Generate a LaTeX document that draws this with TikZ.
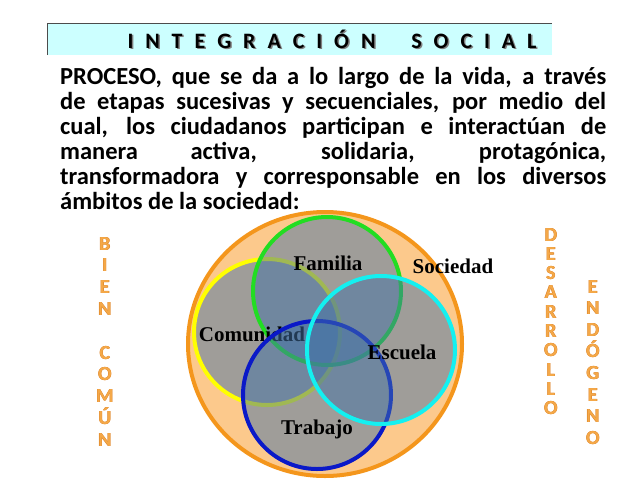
\documentclass[tikz,border=0pt]{standalone}
\usepackage{fontspec}
\setmainfont{Carlito}
\newfontfamily\lblfont{Liberation Serif}
\usetikzlibrary{shapes}
\definecolor{titlebg}{RGB}{204,255,255}
\definecolor{ringfill}{RGB}{252,201,140}
\definecolor{ringline}{RGB}{244,150,28}
\definecolor{venn}{RGB}{67,115,166}
\definecolor{comcol}{RGB}{255,255,0}
\definecolor{famcol}{RGB}{34,221,34}
\definecolor{esccol}{RGB}{20,240,240}
\definecolor{trabcol}{RGB}{10,25,200}
\definecolor{sidecol}{RGB}{244,168,72}
\definecolor{sideedge}{RGB}{214,120,30}
\tikzstyle{vc}=[fill=venn,fill opacity=.5,line width=4pt]
\tikzstyle{lbl}=[anchor=base,inner sep=0pt,font=\lblfont\bfseries\fontsize{21}{21}\selectfont]
\tikzstyle{side}=[anchor=base,inner sep=0pt,text=sidecol,font=\bfseries\fontsize{20}{20}\selectfont]
\tikzstyle{txt}=[anchor=base west,inner sep=0pt,font=\bfseries\fontsize{24.5}{25}\selectfont]
\tikzstyle{ttl}=[anchor=base,inner sep=0pt,font=\bfseries\fontsize{22}{22}\selectfont]
\newcommand{\ttltext}{\makebox[409pt][s]{I N T E G R A C I Ó N\ \ \ S O C I A L}}
% letter with a darker rim
\newcommand{\rimmed}[1]{\makebox[0pt]{\color{sideedge}#1}\hspace{-.6pt}\makebox[0pt]{\color{sideedge}#1}\hspace{.3pt}\makebox[0pt]{#1}}

\begin{document}
\begin{tikzpicture}[x=1pt,y=-1pt]
\useasboundingbox (0,0) rectangle (640,480);
% title bar
\fill[titlebg] (47,23) rectangle (552,55);
\draw[gray!60!black,line width=1pt] (47,55) -- (47,23) -- (552,23);
\node[ttl,text=gray] at (333.5,49.5) {\ttltext};
\node[ttl] (title) at (332,48) {\ttltext};
% paragraph
\node[txt] (l1) at (60,84) {\makebox[546pt][s]{PROCESO, que se da a lo largo de la vida, a través}};
\node[txt] (l2) at (60,109) {\makebox[546pt][s]{de etapas sucesivas y secuenciales, por medio del}};
\node[txt] (l3) at (60,134) {\makebox[546pt][s]{cual, los ciudadanos participan e interactúan de}};
\node[txt] (l4) at (60,159) {\makebox[546pt][s]{manera activa, solidaria, protagónica,}};
\node[txt] (l5) at (60,184) {\makebox[546pt][s]{transformadora y corresponsable en los diversos}};
\node[txt] (l6) at (60,209) {ámbitos de la sociedad:};
% side words
\foreach \c [count=\i from 0] in {B,I,E,N} \node[side] (bien\i) at (105,250+21.7*\i) {\rimmed{\c}};
\foreach \c [count=\i from 0] in {C,O,M,Ú,N} \node[side] (comun\i) at (105,359+21.75*\i) {\rimmed{\c}};
\foreach \c [count=\i from 0] in {D,E,S,A,R,R,O,L,L,O} \node[side] (des\i) at (551,241+19.3*\i) {\rimmed{\c}};
\foreach \c [count=\i from 0] in {E,N,D,Ó,G,E,N,O} \node[side] (endo\i) at (593,293+21.6*\i) {\rimmed{\c}};
% venn
\draw[ringline,fill=ringfill,line width=4pt] (325,344) ellipse (137 and 132);
\draw[vc,draw=comcol] (267,332) circle (73);
\draw[vc,draw=famcol] (327,291) circle (74);
\node[lbl] (comunidad) at (252,341) {Comunidad};
\draw[vc,draw=trabcol] (317,395) circle (74);
\draw[vc,draw=esccol] (381,350) circle (74);
\node[lbl] (familia) at (328,270) {Familia};
\node[lbl] (sociedad) at (453,273) {Sociedad};
\node[lbl] (escuela) at (402,359) {Escuela};
\node[lbl] (trabajo) at (317,434) {Trabajo};
\end{tikzpicture}
\end{document}
